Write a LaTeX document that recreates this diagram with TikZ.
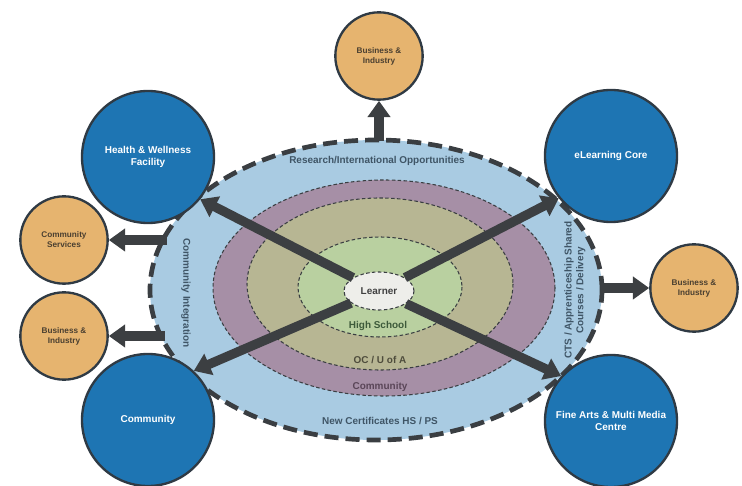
\documentclass[tikz,border=0pt]{standalone}
\usepackage{fontspec}
\setmainfont{Liberation Sans}
\usetikzlibrary{arrows.meta,shapes.geometric}
\definecolor{ringblue}{HTML}{A9CBE2}
\definecolor{ringmauve}{HTML}{A68FA6}
\definecolor{ringolive}{HTML}{B7B693}
\definecolor{ringgreen}{HTML}{B9D0A0}
\definecolor{learnerfill}{HTML}{EEEEEA}
\definecolor{hubblue}{HTML}{1E75B3}
\definecolor{partnerorange}{HTML}{E6B46F}
\definecolor{circline}{HTML}{2F3A44}
\definecolor{ringdash}{HTML}{3A3E42}
\definecolor{arrowgrey}{HTML}{3C3F42}
\definecolor{bluetext}{HTML}{3F5566}
\definecolor{mauvetext}{HTML}{5A4658}
\definecolor{olivetext}{HTML}{4E4C3C}
\definecolor{greentext}{HTML}{3D5A3A}
\definecolor{partnertext}{HTML}{4A3F30}
\begin{document}
\begin{tikzpicture}[x=0.03cm,y=-0.03cm,
		hub/.style={circle,draw=circline,line width=2pt,fill=hubblue,minimum size=3.96cm,inner sep=0pt,text=white,align=center,font=\bfseries\fontsize{8.5}{10}\selectfont},
		partner/.style={circle,draw=circline,line width=2pt,fill=partnerorange,minimum size=2.62cm,inner sep=0pt,text=partnertext,align=center,font=\bfseries\fontsize{7}{8.5}\selectfont},
		ringline/.style={draw=ringdash,line width=0.9pt,dash pattern=on 3pt off 2pt},
		bigarrow/.style={draw=arrowgrey,line width=8pt,-{Triangle[width=19pt,length=14pt]}},
		ringlabel/.style={font=\bfseries\fontsize{8.5}{10}\selectfont}]
			\useasboundingbox (0,0) rectangle (742,486);
			\node[ellipse,draw=ringdash,fill=ringblue,line width=4pt,dash pattern=on 12pt off 6pt,minimum width=13.56cm,minimum height=9cm,inner sep=0pt] (outer) at (376,290) {};
			\filldraw[ringline,fill=ringmauve] (384,288) ellipse [x radius=171,y radius=108];
			\filldraw[ringline,fill=ringolive] (380,284) ellipse [x radius=133,y radius=86];
			\filldraw[ringline,fill=ringgreen] (380,287) ellipse [x radius=82,y radius=50];
			\node[ellipse,ringline,fill=learnerfill,minimum width=2.1cm,minimum height=1.14cm,inner sep=0pt,ringlabel,text=black!75] (learner) at (379,291) {Learner};
			\node[ringlabel,text=bluetext] (research) at (377,161) {Research/International Opportunities};
			\node[ringlabel,text=bluetext] (certificates) at (380,421) {New Certificates HS / PS};
			\node[ringlabel,text=mauvetext] (ringcommunity) at (380,387) {Community};
			\node[ringlabel,text=olivetext] (ocua) at (380,360) {OC / U of A};
			\node[ringlabel,text=greentext] (highschool) at (378,326) {High School};
			\node[ringlabel,text=bluetext,rotate=-90] (integration) at (186,293) {Community Integration};
			\node[ringlabel,text=bluetext,rotate=90,align=center] (cts) at (575,290) {CTS / Apprenticeship Shared\\Courses / Delivery};
			\node[hub] (health) at (148,157) {Health \& Wellness\\Facility};
			\node[hub] (elearning) at (611,156) {eLearning Core};
			\node[hub] (community) at (148,420) {Community};
			\node[hub] (finearts) at (611,421) {Fine Arts \& Multi Media\\Centre};
			\node[partner] (bitop) at (379,56) {Business \&\\Industry};
			\node[partner] (commserv) at (64,240) {Community\\Services};
			\node[partner] (bileft) at (64,336) {Business \&\\Industry};
			\node[partner] (biright) at (694,288) {Business \&\\Industry};
			\draw[bigarrow] (learner) -- (health.-39);
			\draw[bigarrow] (learner) -- (elearning.-141);
			\draw[bigarrow] (learner) -- (community.47);
			\draw[bigarrow] (learner) -- (finearts.138);
			\coordinate (topfrom) at (379,141);
			\coordinate (csfrom) at (167,240);
			\coordinate (blfrom) at (165,336);
			\coordinate (brfrom) at (601,288);
			\draw[bigarrow] (topfrom) -- (bitop);
			\draw[bigarrow] (csfrom) -- (commserv);
			\draw[bigarrow] (blfrom) -- (bileft);
			\draw[bigarrow] (brfrom) -- (biright);
		\end{tikzpicture}
\end{document}
